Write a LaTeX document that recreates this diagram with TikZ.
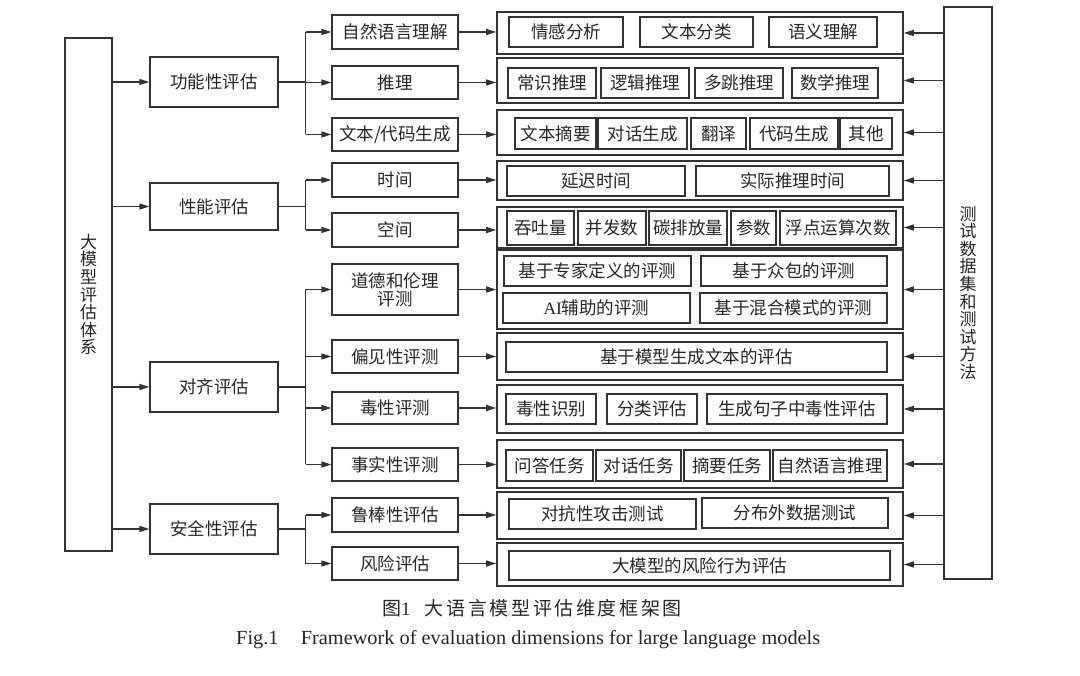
\documentclass[tikz,border=0pt]{standalone}
\usepackage{fontspec}
\usepackage{graphicx}
\setmainfont{Liberation Serif}
\newfontfamily\cjk{Noto Sans CJK SC}
\newfontfamily\cjkcap[LetterSpace=14]{Noto Sans CJK SC}
\usetikzlibrary{arrows.meta}
\tikzset{
  bx/.style={draw=black!80, line width=1.2pt, inner sep=0pt, font=\cjk\fontsize{17.5}{18}\selectfont, text=black!85, align=center},
  ob/.style={draw=black!80, line width=1.6pt, inner sep=0pt},
  tall/.style={draw=black!80, line width=1.3pt, inner sep=0pt, font=\cjk\fontsize{17}{17.6}\selectfont, text=black!85, align=center},
  arr/.style={draw=black!80, line width=1.2pt, -{Triangle[length=10pt,width=6pt]}},
  ln/.style={draw=black!80, line width=1.2pt},
}
\newcommand\mybox[7][bx]{\node[#1,minimum width={(#5-#3)*1pt},minimum height={(#6-#4)*1pt}] (#2) at ({(#3+#5)/2},{(#4+#6)/2}) {#7};}
\begin{document}
\begin{tikzpicture}[x=1pt,y=-1pt]
\useasboundingbox (0,0) rectangle (1080,676);
% tall boxes
\mybox[tall]{L}{65}{38}{112}{551}{大\\模\\型\\评\\估\\体\\系}
\mybox[tall]{R}{944}{7}{992}{579}{测\\试\\数\\据\\集\\和\\测\\试\\方\\法}
% level 1
\mybox{F1}{150}{57}{278}{107}{功能性评估}
\mybox{F2}{150}{183}{278}{230}{性能评估}
\mybox{F3}{150}{362}{278}{412}{对齐评估}
\mybox{F4}{150}{504}{278}{554}{安全性评估}
% level 2
\mybox{S1}{332}{15}{458}{49}{自然语言理解}
\mybox{S2}{332}{66}{458}{99}{推理}
\mybox{S3}{332}{118}{458}{151}{文本/代码生成}
\mybox{S4}{332}{163}{458}{197}{时间}
\mybox{S5}{332}{213}{458}{247}{空间}
\mybox{S6}{332}{264}{458}{315}{道德和伦理\\评测}
\mybox{S7}{332}{340}{458}{373}{偏见性评测}
\mybox{S8}{332}{392}{458}{424}{毒性评测}
\mybox{S9}{332}{448}{458}{481}{事实性评测}
\mybox{S10}{332}{498}{458}{532}{鲁棒性评估}
\mybox{S11}{332}{547}{458}{580}{风险评估}
% outer boxes
\mybox[ob]{O1}{497}{12}{903}{54}{}
\mybox[ob]{O2}{497}{58}{903}{103}{}
\mybox[ob]{O3}{497}{110}{903}{155}{}
\mybox[ob]{O4}{497}{161}{903}{200}{}
\mybox[ob]{O5}{497}{207}{903}{248}{}
\mybox[ob]{O6}{497}{250}{903}{329}{}
\mybox[ob]{O7}{497}{333}{903}{380}{}
\mybox[ob]{O8}{497}{385}{903}{433}{}
\mybox[ob]{O9}{497}{440}{903}{488}{}
\mybox[ob]{O10}{497}{492}{903}{539}{}
\mybox[ob]{O11}{497}{543}{903}{586}{}
% inner row 1
\mybox{a1}{509}{17}{623}{47}{情感分析}
\mybox{a2}{640}{17}{753}{47}{文本分类}
\mybox{a3}{769}{17}{877}{47}{语义理解}
% row 2
\mybox{b1}{508}{68}{596}{98}{常识推理}
\mybox{b2}{601}{68}{689}{98}{逻辑推理}
\mybox{b3}{695}{68}{783}{98}{多跳推理}
\mybox{b4}{792}{68}{878}{98}{数学推理}
% row 3
\mybox{c1}{515}{118}{596}{149}{文本摘要}
\mybox{c2}{598}{118}{687}{149}{对话生成}
\mybox{c3}{691}{118}{746}{149}{翻译}
\mybox{c4}{750}{118}{838}{149}{代码生成}
\mybox{c5}{840}{118}{892}{149}{其他}
% row 4
\mybox{d1}{507}{166}{685}{196}{延迟时间}
\mybox{d2}{696}{166}{889}{196}{实际推理时间}
% row 5
\mybox{e1}{507}{211}{574}{245}{吞吐量}
\mybox{e2}{578}{211}{646}{245}{并发数}
\mybox{e3}{649}{211}{727}{245}{碳排放量}
\mybox{e4}{731}{211}{776}{245}{参数}
\mybox{e5}{780}{211}{896}{245}{浮点运算次数}
% row 6
\mybox{f1}{504}{256}{691}{286}{基于专家定义的评测}
\mybox{f2}{701}{256}{887}{286}{基于众包的评测}
\mybox{f3}{503}{293}{690}{323}{{\rmfamily AI}辅助的评测}
\mybox{f4}{700}{293}{887}{323}{基于混合模式的评测}
% row 7
\mybox{g1}{506}{342}{887}{372}{基于模型生成文本的评估}
% row 8
\mybox{h1}{506}{394}{596}{424}{毒性识别}
\mybox{h2}{607}{394}{697}{424}{分类评估}
\mybox{h3}{707}{394}{887}{424}{生成句子中毒性评估}
% row 9
\mybox{i1}{506}{450}{593}{481}{问答任务}
\mybox{i2}{596}{450}{681}{481}{对话任务}
\mybox{i3}{684}{450}{770}{481}{摘要任务}
\mybox{i4}{773}{450}{887}{481}{自然语言推理}
% row 10
\mybox{j1}{509}{499}{696}{529}{对抗性攻击测试}
\mybox{j2}{702}{498}{888}{528}{分布外数据测试}
% row 11
\mybox{k1}{509}{551}{890}{580}{大模型的风险行为评估}
% left arrows
\foreach \f in {F1,F2,F3,F4} \draw[arr] (\f.west -| L.east) -- (\f.west);
% branches
\draw[ln] (F1.east) -- ++(27,0) coordinate (p1);
\draw[ln] (p1 |- S1.west) -- (p1 |- S3.west);
\foreach \s in {S1,S2,S3} \draw[arr] (p1 |- \s.west) -- (\s.west);
\draw[ln] (F2.east) -- ++(27,0) coordinate (p2);
\draw[ln] (p2 |- S4.west) -- (p2 |- S5.west);
\foreach \s in {S4,S5} \draw[arr] (p2 |- \s.west) -- (\s.west);
\draw[ln] (F3.east) -- ++(27,0) coordinate (p3);
\draw[ln] (p3 |- S6.west) -- (p3 |- S9.west);
\foreach \s in {S6,S7,S8,S9} \draw[arr] (p3 |- \s.west) -- (\s.west);
\draw[ln] (F4.east) -- ++(27,0) coordinate (p4);
\draw[ln] (p4 |- S10.west) -- (p4 |- S11.west);
\foreach \s in {S10,S11} \draw[arr] (p4 |- \s.west) -- (\s.west);
% level2 -> outer
\foreach \s/\o in {S1/O1,S2/O2,S3/O3,S4/O4,S5/O5,S6/O6,S7/O7,S8/O8,S9/O9,S10/O10,S11/O11}
  \draw[arr] (\s.east) -- (\s.east -| \o.west);
% right box -> outer
\foreach \o in {O1,O2,O3,O4,O5,O6,O7,O8,O9,O10,O11}
  \draw[arr] (\o.east -| R.west) -- (\o.east);
% captions
\node[anchor=west, inner sep=0pt, text=black!85, font=\fontsize{19}{20}\selectfont] (cap1) at (382,608) {\cjkcap 图\rmfamily 1\hspace{14pt}\cjkcap 大语言模型评估维度框架图};
\node[anchor=west, inner sep=0pt, text=black!85, font=\fontsize{20}{22}\selectfont] (cap2) at (236,640) {\resizebox{584pt}{\height}{Fig.1\hspace{22pt}Framework of evaluation dimensions for large language models}};
\end{tikzpicture}
\end{document}
